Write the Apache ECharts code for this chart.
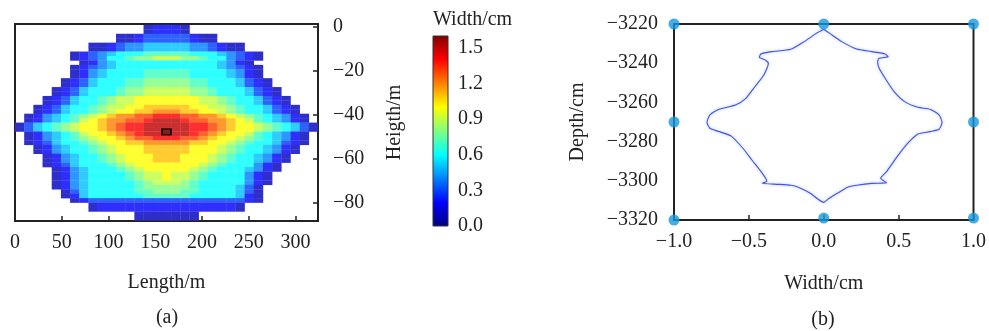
<!DOCTYPE html>
<html>
<head>
<meta charset="utf-8">
<title>Fracture width map and borehole profile</title>
<script src="https://cdn.jsdelivr.net/npm/echarts@6/dist/echarts.min.js"></script>
<style>
  html, body { margin: 0; padding: 0; background: #fff; }
  #chart { width: 989px; height: 331px; }
</style>
</head>
<body>
<div id="chart"></div>
<script>
// ---- (a) fracture width map ----
// 33 columns x 44 rows, one char per cell, '.' = no fracture,
// '1'..'9' = 0.1..0.9 cm, 'a'..'g' = 1.0..1.6 cm
const colCount = 33;
const lengthMax = 324;      // m, right edge of the last column
const heightTop = 1;        // m, top edge of the first row
const rowHeight = 2.02;     // m
const widthRows = [
  '..............12221..............',
  '..............12221..............',
  '...........11233333211...........',
  '...........11233333211...........',
  '........11234455555443211........',
  '........11234455555443211........',
  '......123456667777766654321......',
  '......123466788999887664321......',
  '.......1245666666666665421.......',
  '......123456666666666654321......',
  '......124566667777766665421......',
  '......124566667777766665421......',
  '.....12356667788888776665321.....',
  '.....12356667788888776665321.....',
  '....1235666788999998876665321....',
  '....1235666788999998876665321....',
  '...1235667899aaaaaaa9987665321...',
  '...1235667899aaaaaaa9987665321...',
  '..1235667899aabbbbbaa9987665321..',
  '..123566789aabbcccbbaa987665321..',
  '.12456789abccddeeeddccba98765421.',
  '.1245679abccddefffeddccba9765421.',
  '1356789aabcdeefffffeedcbaa9876531',
  '1356789aabcdeefffffeedcbaa9876531',
  '.1245679aabcdefffffedcbaa9765421.',
  '.12456789aabcddeeeddcbaa98765421.',
  '.123566789aabbcccccbbaa987665321.',
  '..124566789aaabbbbbaaa987665421..',
  '..124566789aaabbbbbaaa987665421..',
  '...124566789aaabbbaaa987665421...',
  '...124566789aaabbbaaa987665421...',
  '...1235666789aaaaaaa987666421....',
  '....1245666789aaaaa9876665421....',
  '....124566667899a99876666421.....',
  '....124566667899a99876666421.....',
  '....124566666789998766666421.....',
  '....12456666678888876666531......',
  '.....1356666677888776666531......',
  '.....1256666667777766666521......',
  '......123333333333333333321......',
  '........12222222222222221........',
  '........12222222222222221........',
  '.............1111111.............',
  '.............1111111.............'
];
const markerPos = [162, -47.7];
const lengthTicks = [0, 50, 100, 150, 200, 250, 300];
const colorTicks = [0, 0.3, 0.6, 0.9, 1.2, 1.5];
const colorMax = 1.6;
const jetColors = ['#000080', '#0000ff', '#0080ff', '#00ffff', '#80ff80',
                   '#ffff00', '#ff8000', '#ff0000', '#800000'];

// ---- (b) borehole wall profile ----
const profileX = [0.0, 0.04, 0.12, 0.22, 0.32, 0.41, 0.43, 0.37, 0.36, 0.37,
  0.41, 0.47, 0.54, 0.63, 0.71, 0.77, 0.79, 0.77, 0.71, 0.63,
  0.56, 0.49, 0.42, 0.38, 0.42, 0.32, 0.22, 0.16, 0.09, 0.03,
  0.0, -0.04, -0.09, -0.17, -0.22, -0.30, -0.41, -0.38, -0.41, -0.48,
  -0.54, -0.62, -0.70, -0.76, -0.78, -0.76, -0.70, -0.59, -0.52, -0.46,
  -0.40, -0.37, -0.39, -0.43, -0.42, -0.35, -0.22, -0.13, -0.05, 0.0];
const profileY = [-3222.7, -3224.8, -3229.0, -3232.8, -3234.1, -3235.3, -3236.7, -3237.5, -3239.2, -3242.6,
  -3247.7, -3254.5, -3259.6, -3262.5, -3263.5, -3266.4, -3270.3, -3273.7, -3274.9, -3276.1,
  -3280.9, -3287.7, -3295.3, -3298.7, -3301.0, -3301.3, -3302.3, -3303.3, -3306.4, -3309.3,
  -3311.0, -3309.3, -3306.4, -3303.3, -3302.3, -3301.8, -3301.3, -3300.1, -3296.2, -3289.4,
  -3283.4, -3277.1, -3274.9, -3273.2, -3270.3, -3266.4, -3263.5, -3261.3, -3257.9, -3252.0,
  -3246.0, -3240.1, -3238.4, -3237.0, -3235.3, -3234.1, -3232.9, -3229.0, -3224.8, -3222.7];
const gaugeX = [-1, 0, 1, -1, 1, -1, 0, 1];
const gaugeY = [-3220, -3220, -3220, -3270, -3270, -3320, -3319, -3319];

const font = "'Liberation Serif', 'Times New Roman', serif";
const ink = '#222';
const minus = v => String(v).replace('-', '\u2212');

const levels = '0123456789abcdefg';
const colW = lengthMax / colCount;
const cells = [];
widthRows.forEach((row, r) => {
  for (let c = 0; c < colCount; c++) {
    const ch = row[c];
    if (!ch || ch === '.') continue;
    const x0 = c * colW;
    const y1 = heightTop - r * rowHeight;
    cells.push([x0, x0 + colW, y1 - rowHeight, y1, levels.indexOf(ch) / 10]);
  }
});

function renderCell(params, api) {
  const a = api.coord([api.value(0), api.value(3)]);
  const b = api.coord([api.value(1), api.value(2)]);
  return {
    type: 'rect',
    shape: { x: a[0], y: a[1], width: b[0] - a[0] + 0.3, height: b[1] - a[1] + 0.3 },
    style: { fill: echarts.color.lerp(0.18, [api.visual('color'), '#ffffff']) }
  };
}

function renderColorbar(params, api) {
  const a = api.coord([0, colorMax]);
  const b = api.coord([1, 0]);
  return {
    type: 'rect',
    shape: { x: a[0], y: a[1], width: b[0] - a[0], height: b[1] - a[1] },
    style: {
      fill: new echarts.graphic.LinearGradient(0, 1, 0, 0,
        jetColors.map((c, i) => ({ offset: i / (jetColors.length - 1), color: c }))),
      stroke: '#333',
      lineWidth: 1
    }
  };
}

const labelStyle = { fontFamily: font, fontSize: 20, color: ink };
const nameStyle = { fontFamily: font, fontSize: 20, color: ink };
const tick = { show: true, inside: true, length: 5, lineStyle: { color: ink, width: 1.5 } };
const noLine = { show: false, onZero: false };

const chart = echarts.init(document.getElementById('chart'));
chart.setOption({
  animation: false,
  backgroundColor: '#fff',
  grid: [
    { left: 15, top: 24, width: 303, height: 197, show: true, borderColor: ink, borderWidth: 2 },
    { left: 433, top: 36, width: 15, height: 190 },
    { left: 674, top: 24, width: 303, height: 196, show: true, borderColor: ink, borderWidth: 2 }
  ],
  visualMap: {
    show: false, type: 'continuous', min: 0, max: colorMax,
    dimension: 4, seriesIndex: 0, inRange: { color: jetColors }
  },
  xAxis: [
    {
      gridIndex: 0, type: 'value', position: 'bottom', min: 0, max: lengthMax, interval: 50,
      axisLine: noLine, axisTick: tick, splitLine: { show: false },
      axisLabel: Object.assign({ margin: 12, showMaxLabel: false,
        formatter: v => lengthTicks.includes(v) ? String(v) : '' }, labelStyle),
      name: 'Length/m', nameLocation: 'middle', nameGap: 52, nameTextStyle: nameStyle
    },
    { gridIndex: 1, type: 'value', min: 0, max: 1, show: false },
    {
      gridIndex: 2, type: 'value', position: 'bottom', min: -1, max: 1, interval: 0.5,
      axisLine: noLine, axisTick: tick, splitLine: { show: false },
      axisLabel: Object.assign({ margin: 12, formatter: v => minus(v.toFixed(1)) }, labelStyle),
      name: 'Width/cm', nameLocation: 'middle', nameGap: 54, nameTextStyle: nameStyle
    }
  ],
  yAxis: [
    {
      gridIndex: 0, type: 'value', position: 'right', min: -88.2, max: 1.4, splitNumber: 5,
      axisLine: noLine, axisTick: tick, splitLine: { show: false },
      axisLabel: Object.assign({ margin: 15, showMinLabel: false, showMaxLabel: false,
        formatter: v => minus(v) }, labelStyle),
      name: 'Heigth/m', nameLocation: 'middle', nameRotate: 90, nameGap: 67, nameTextStyle: nameStyle
    },
    {
      gridIndex: 1, type: 'value', position: 'right', min: 0, max: colorMax, interval: 0.3,
      axisLine: noLine, axisTick: { show: false }, splitLine: { show: false },
      axisLabel: Object.assign({ margin: 10, showMaxLabel: false,
        formatter: v => colorTicks.some(t => Math.abs(t - v) < 1e-6) ? v.toFixed(1) : '' }, labelStyle)
    },
    {
      gridIndex: 2, type: 'value', position: 'left', min: -3320, max: -3220, interval: 20,
      axisLine: noLine, axisTick: { show: false }, splitLine: { show: false },
      axisLabel: Object.assign({ margin: 16, formatter: v => minus(v) }, labelStyle),
      name: 'Depth/cm', nameLocation: 'middle', nameRotate: 90, nameGap: 86, nameTextStyle: nameStyle
    }
  ],
  series: [
    {
      type: 'custom', xAxisIndex: 0, yAxisIndex: 0, silent: true, clip: true,
      encode: { x: [0, 1], y: [2, 3] },
      renderItem: renderCell,
      data: cells
    },
    {
      type: 'scatter', xAxisIndex: 0, yAxisIndex: 0, silent: true,
      symbol: 'rect', symbolSize: [9, 6],
      itemStyle: { color: '#6a1c1c', borderColor: '#000', borderWidth: 1.5 },
      data: [markerPos]
    },
    {
      type: 'custom', xAxisIndex: 1, yAxisIndex: 1, silent: true,
      renderItem: renderColorbar,
      data: [[0, 0]]
    },
    {
      type: 'line', xAxisIndex: 2, yAxisIndex: 2, silent: true,
      showSymbol: false, smooth: 0.2,
      lineStyle: { color: '#4f4fdc', width: 1.1, shadowBlur: 3, shadowColor: 'rgba(70,150,255,0.6)' },
      data: profileX.map((x, i) => [x, profileY[i]])
    },
    {
      type: 'scatter', xAxisIndex: 2, yAxisIndex: 2, silent: true, clip: false, z: 5,
      symbolSize: 11, itemStyle: { color: '#1598dc' },
      data: gaugeX.map((x, i) => [x, gaugeY[i]])
    }
  ],
  graphic: [
    { type: 'text', left: 433, top: 10, style: { text: 'Width/cm', font: '20px ' + font, fill: ink } },
    { type: 'text', x: 167, y: 318, style: { text: '(a)', font: '20px ' + font, fill: ink, align: 'center', verticalAlign: 'middle' } },
    { type: 'text', x: 823, y: 320, style: { text: '(b)', font: '20px ' + font, fill: ink, align: 'center', verticalAlign: 'middle' } }
  ]
});
</script>
</body>
</html>
